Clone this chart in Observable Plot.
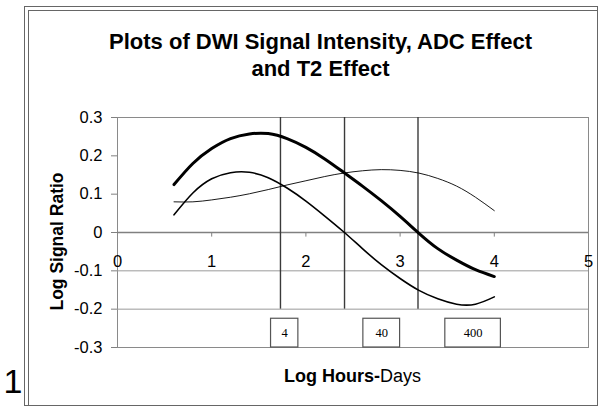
<!DOCTYPE html>
<html>
<head>
<meta charset="utf-8">
<script src="https://cdn.jsdelivr.net/npm/d3@7"></script>
<script src="https://cdn.jsdelivr.net/npm/@observablehq/plot@0.6"></script>
<style>
  html, body { margin: 0; padding: 0; background: #fff; }
  #wrap { position: relative; width: 603px; height: 410px; overflow: hidden; }
  #wrap svg { position: absolute; left: 0; top: 0; }
  .ln { position: absolute; background: #666; }
</style>
</head>
<body>
<div id="wrap">
  <div class="ln" style="left:24px;top:6px;width:574px;height:1px;"></div>
  <div class="ln" style="left:24px;top:6px;width:1px;height:400px;"></div>
  <div class="ln" style="left:28px;top:10px;width:570px;height:1px;"></div>
  <div class="ln" style="left:28px;top:10px;width:1px;height:395px;"></div>
  <div class="ln" style="left:597px;top:6px;width:1px;height:399px;"></div>
  <div class="ln" style="left:24px;top:405px;width:574px;height:1px;"></div>
</div>
<script>
// ---- data ----
const title = "Plots of DWI Signal Intensity, ADC Effect\nand T2 Effect";
const yLabel = "Log Signal Ratio";
const xLabelBold = "Log Hours-";
const xLabelNormal = "Days";
const cornerLabel = "1";

const logHours = [0.6, 0.8, 1.0, 1.2, 1.4, 1.6, 1.8, 2.0, 2.2, 2.4, 2.6, 2.8, 3.0, 3.2, 3.4, 3.6, 3.8, 4.0];
const dwi = [0.125, 0.180, 0.219, 0.245, 0.257, 0.258, 0.245, 0.222, 0.192, 0.157, 0.121, 0.083, 0.042, -0.002, -0.042, -0.072, -0.097, -0.115];
const adc = [0.046, 0.103, 0.140, 0.156, 0.157, 0.143, 0.116, 0.082, 0.043, 0.002, -0.042, -0.084, -0.120, -0.151, -0.173, -0.187, -0.187, -0.168];
const t2  = [0.080, 0.080, 0.085, 0.092, 0.101, 0.112, 0.124, 0.135, 0.146, 0.155, 0.161, 0.164, 0.162, 0.155, 0.141, 0.121, 0.092, 0.057];

const xTicks = [0, 1, 2, 3, 4, 5];
const yTicks = [-0.3, -0.2, -0.1, 0, 0.1, 0.2, 0.3];
const gridY = [-0.1, -0.2];
const markerLines = [1.73, 2.41, 3.19];
const boxLabels = ["4", "40", "400"];
const boxStart = [1.63, 2.61, 3.48];
const boxEnd = [1.92, 3.00, 4.07];
const boxBottom = -0.3;
const boxTop = -0.225;

// ---- build ----
const series = [
  {name: "DWI", values: dwi, width: 3},
  {name: "ADC", values: adc, width: 1.6},
  {name: "T2", values: t2, width: 0.9}
];
const rows = series.flatMap(s => logHours.map((x, i) => ({series: s.name, x, y: s.values[i]})));
const boxes = boxLabels.map((label, i) => ({label, x1: boxStart[i], x2: boxEnd[i], y1: boxBottom, y2: boxTop}));
const font = "Liberation Sans, Arial, Helvetica, sans-serif";

const chart = Plot.plot({
  width: 603,
  height: 410,
  marginLeft: 117,
  marginRight: 15,
  marginTop: 117,
  marginBottom: 63,
  x: {domain: [0, 5], axis: null},
  y: {domain: [-0.3, 0.3], axis: null},
  style: {fontFamily: font, background: "transparent", color: "#000"},
  marks: [
    Plot.frame({stroke: "#8a8a8a"}),
    Plot.ruleY(gridY, {stroke: "#9a9a9a"}),
    Plot.ruleY([0], {stroke: "#808080", strokeWidth: 1.5}),
    Plot.ruleX(xTicks.slice(1, -1), {y1: 0, y2: -0.012, stroke: "#808080"}),
    Plot.ruleX(markerLines, {y1: -0.2, y2: 0.3, stroke: "#3a3a3a", strokeWidth: 1.4}),
    Plot.axisY({ticks: yTicks, tickSize: 6, tickPadding: 9, tickFormat: d => String(d), fontSize: 16.5, stroke: "#808080", fill: "#000"}),
    Plot.text(xTicks, {x: d => d, y: 0, dy: 29, text: d => String(d), fontSize: 16.5, fill: "#000"}),
    ...series.map(s => Plot.line(rows.filter(r => r.series === s.name), {x: "x", y: "y", stroke: "#000", strokeWidth: s.width, curve: "natural"})),
    Plot.rect(boxes, {x1: "x1", x2: "x2", y1: "y1", y2: "y2", fill: "#fff", stroke: "#555", strokeWidth: 1.2}),
    Plot.text(boxes, {x: d => (d.x1 + d.x2) / 2, y: d => (d.y1 + d.y2) / 2, text: "label", fontFamily: "Liberation Serif, Times New Roman, serif", fontSize: 12.5, fill: "#000"}),
    Plot.text([title], {frameAnchor: "top-left", dx: 203, dy: -87, textAnchor: "middle", lineAnchor: "top", lineHeight: 1.21, fontSize: 22, fontWeight: "bold", fill: "#000"}),
    Plot.text([yLabel], {frameAnchor: "left", dx: -60, dy: 9, rotate: -90, textAnchor: "middle", fontSize: 17.5, fontWeight: "bold", fill: "#000"}),
    Plot.text([xLabelBold], {frameAnchor: "bottom", dx: 27, dy: 34, textAnchor: "end", fontSize: 18, fontWeight: "bold", fill: "#000"}),
    Plot.text([xLabelNormal], {frameAnchor: "bottom", dx: 27, dy: 34, textAnchor: "start", fontSize: 18, fill: "#000"}),
    Plot.text([cornerLabel], {frameAnchor: "bottom-left", dx: -114, dy: 45, fontSize: 34, fill: "#000"})
  ]
});
document.getElementById("wrap").appendChild(chart);
</script>
</body>
</html>
